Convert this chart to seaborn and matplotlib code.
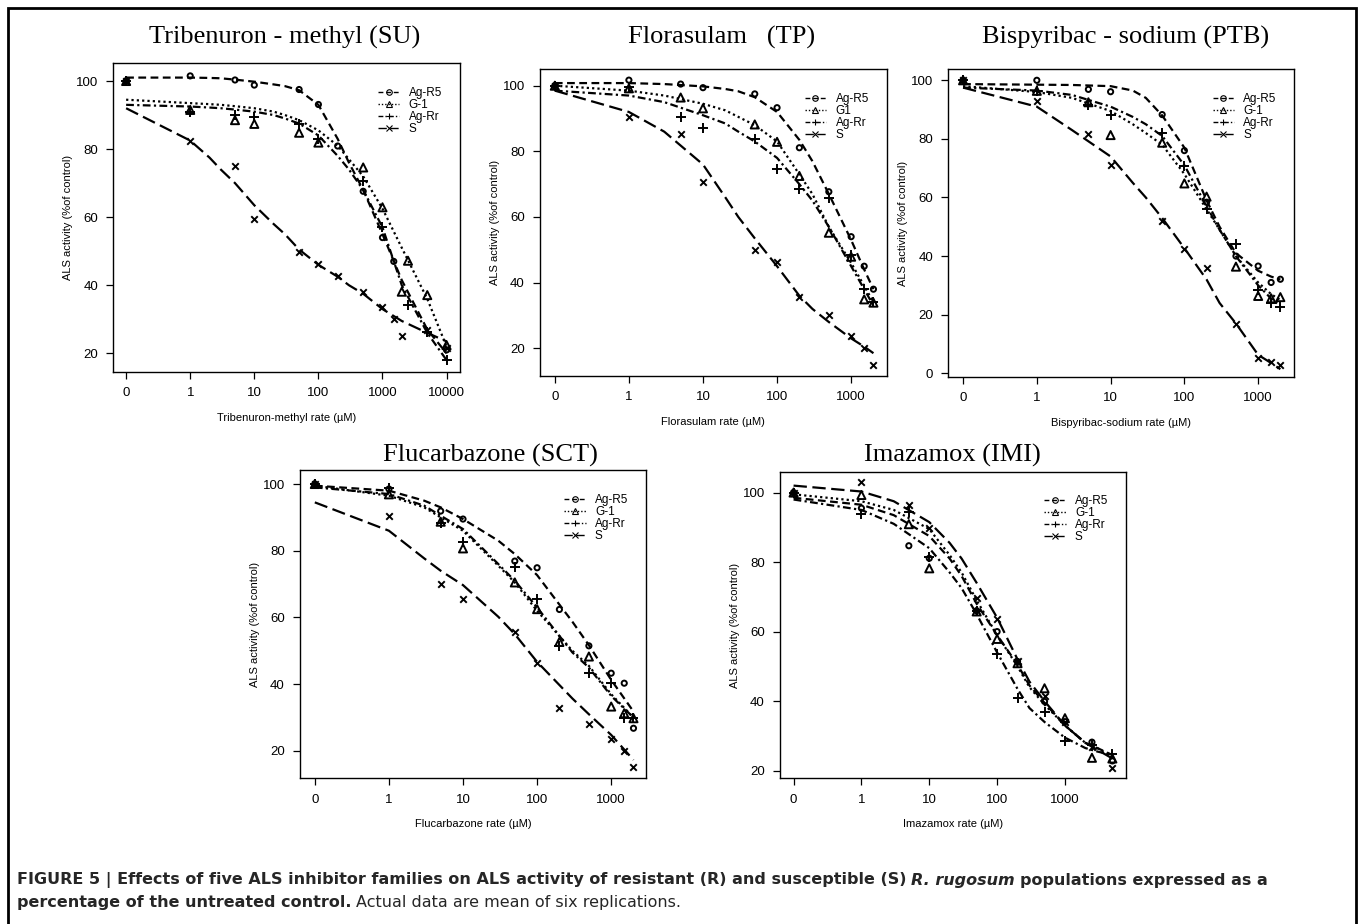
import numpy as np
import pandas as pd
import seaborn as sns
import matplotlib.pyplot as plt
from matplotlib.lines import Line2D
from matplotlib.patches import Rectangle
from matplotlib.ticker import NullLocator

sns.set_style("ticks")
plt.rcParams['font.family'] = ['Liberation Sans', 'DejaVu Sans']
plt.rcParams.update({'text.color': 'black', 'axes.labelcolor': 'black',
                     'xtick.color': 'black', 'ytick.color': 'black'})

pops = ['Ag-R5', 'G-1', 'Ag-Rr', 'S']

# ---- Tribenuron-methyl (SU) ----
su_pts_dose = {
    'Ag-R5': [0, 1, 5, 10, 50, 100, 200, 500, 1000, 1500, 10000],
    'G-1': [0, 1, 5, 10, 50, 100, 500, 1000, 2000, 2500, 5000, 10000],
    'Ag-Rr': [0, 1, 5, 10, 50, 100, 500, 1000, 2500, 5000, 10000],
    'S': [0, 1, 5, 10, 50, 100, 200, 500, 1000, 1500, 2000, 5000, 10000],
}
su_pts_val = {
    'Ag-R5': [100, 101.5, 100.3, 98.8, 97.5, 93.1, 80.9, 67.6, 54, 47, 21],
    'G-1': [100, 91.5, 88.5, 87.4, 84.8, 81.9, 74.6, 62.9, 38.1, 47.2, 37.1, 22.4],
    'Ag-Rr': [100, 91, 90, 89.5, 87.5, 83, 70.7, 57.2, 34.2, 26.4, 18],
    'S': [100, 82.5, 75.1, 59.5, 49.9, 46.2, 42.7, 38.1, 33.5, 30, 25.2, 26.8, 21.5],
}
su_fit_dose = [0, 1, 2, 3, 5, 10, 20, 30, 50, 100, 200, 300, 500, 1000, 2000, 5000, 10000]
su_fit_val = {
    'Ag-R5': [101, 101, 100.9, 100.8, 100.4, 99.8, 99, 98.5, 97.3, 93, 83, 76, 68, 55, 41.5, 27, 20],
    'G-1': [94.5, 93.5, 93.2, 93, 92.6, 92, 91, 90, 88.5, 85.5, 81, 77, 72, 62.5, 51, 36, 22],
    'Ag-Rr': [93, 92.5, 92.2, 92, 91.6, 91, 90, 89, 87.5, 84, 78, 74, 68, 57, 40, 26, 18],
    'S': [92, 82.5, 77.5, 74, 70, 63.5, 58, 55, 50.5, 46, 42.5, 40, 37.5, 33, 29.5, 26, 23.5],
}

# ---- Florasulam (TP) ----
tp_dose = [0, 1, 5, 10, 50, 100, 200, 500, 1000, 1500, 2000]
tp_pts_val = {
    'Ag-R5': [100, 101.7, 100.5, 99.4, 97.5, 93.3, 81.1, 67.7, 54, 45, 38],
    'G-1': [100, 99.2, 96.4, 93.1, 88.2, 82.9, 72.5, 55.2, 47.9, 34.9, 33.9],
    'Ag-Rr': [100, 99.7, 90.6, 87, 83.8, 74.6, 68.4, 65.7, 48.4, 38, 34],
    'S': [100, 90.6, 85.3, 70.6, 50, 46.2, 35.5, 30.2, 23.8, 20, 14.9],
}
tp_fit_dose = [0, 1, 3, 10, 20, 30, 50, 100, 200, 300, 500, 1000, 1500, 2000]
tp_fit_val = {
    'Ag-R5': [100.8, 100.8, 100.5, 99.8, 99, 98.3, 96.5, 92, 83.5, 77, 67, 53, 44, 38],
    'G-1': [100, 98.5, 97, 94.5, 92.5, 90.5, 88, 83, 73, 67, 57, 46, 39, 34],
    'Ag-Rr': [98.5, 97, 95, 91, 88.5, 86, 83, 78, 70, 65, 57, 45, 38, 33],
    'S': [98.5, 92, 86, 76, 66, 60, 53.5, 45, 36, 32, 28, 23, 20.5, 18.5],
}

# ---- Bispyribac-sodium (PTB) ----
ptb_dose = [0, 1, 5, 10, 50, 100, 200, 500, 1000, 1500, 2000]
ptb_pts_val = {
    'Ag-R5': [100, 100, 96.9, 96.1, 88.3, 76, 58.4, 40, 36.6, 31, 32.1],
    'G-1': [100, 96.4, 92.5, 81.3, 78.7, 64.8, 60.3, 36.4, 26.4, 25.6, 26],
    'Ag-Rr': [100, 96.5, 91.6, 88.2, 81.9, 70.9, 56, 44.1, 28.4, 24.1, 22.5],
    'S': [100, 93.1, 81.6, 71.1, 51.9, 42.3, 35.8, 16.8, 5.1, 3.8, 2.7],
}
ptb_fit_dose = [0, 1, 3, 10, 20, 30, 50, 100, 200, 300, 500, 1000, 1500, 2000]
ptb_fit_val = {
    'Ag-R5': [98.7, 98.5, 98.4, 98, 96.5, 94, 88, 77, 59, 50, 41, 35, 33, 32],
    'G-1': [98, 96, 94, 89.5, 85, 82, 78, 68, 56, 49, 40, 31, 27, 25],
    'Ag-Rr': [97.5, 96.5, 95, 91, 87.5, 85, 81, 71, 57, 49, 40, 30, 25.5, 23],
    'S': [97.5, 91, 83, 74, 65, 60, 53, 42.7, 32, 24, 17, 6.3, 3.5, 1.4],
}

# ---- Flucarbazone (SCT) ----
sct_dose = [0, 1, 5, 10, 50, 100, 200, 500, 1000, 1500, 2000]
sct_pts_val = {
    'Ag-R5': [100, 98.5, 91.9, 89.5, 76.9, 74.9, 62.4, 51.5, 43.3, 40.3, 26.8],
    'G-1': [100, 96.9, 88.7, 80.7, 70.5, 62.5, 52.7, 48.3, 33.3, 31.3, 29.8],
    'Ag-Rr': [100, 98.7, 88.2, 82.7, 75.2, 65.5, 51.5, 43.3, 40.3, 30, 30],
    'S': [100, 90.4, 70, 65.5, 55.7, 46.3, 32.8, 28, 23.6, 20.1, 15.1],
}
sct_fit_dose = [0, 1, 3, 5, 10, 30, 50, 100, 300, 500, 1000, 2000]
sct_fit_val = {
    'Ag-R5': [99.5, 98, 95, 93, 89.5, 83, 79, 72.7, 58.7, 51.7, 41.3, 31.8],
    'G-1': [99.5, 96.5, 93, 90, 86, 75.5, 70.5, 62, 50, 45.5, 37, 30],
    'Ag-Rr': [99, 97, 93.5, 90.5, 86.5, 76, 71, 63, 49.5, 45, 36.5, 30],
    'S': [94.5, 86, 77.7, 74, 69.7, 60.2, 55, 46.7, 35.7, 31, 24.8, 17.3],
}

# ---- Imazamox (IMI) ----
imi_dose = [0, 1, 5, 10, 50, 100, 200, 500, 1000, 2500, 5000]
imi_pts_val = {
    'Ag-R5': [100, 95.5, 84.7, 81.1, 66, 60, 51.4, 39.9, 34.1, 28.2, 22.8],
    'G-1': [100, 99.3, 90.9, 78.2, 65.8, 57.9, 50.9, 43.7, 35.1, 23.7, 23.5],
    'Ag-Rr': [100, 93.9, 94.3, 81.6, 65.8, 53.5, 41, 36.8, 28.5, 27.4, 24.7],
    'S': [100, 103, 96.3, 89.7, 69.6, 63.6, 51.6, 41.6, 34.1, 26.9, 20.9],
}
imi_fit_dose = [0, 1, 3, 10, 20, 30, 50, 100, 200, 300, 500, 1000, 2000, 3000, 5000]
imi_fit_val = {
    'Ag-R5': [98.5, 96.5, 93.5, 87.5, 81, 76, 68, 59, 50.5, 44.5, 39.5, 33, 28, 26.5, 24.5],
    'G-1': [99.5, 97.5, 95, 89.5, 82, 77, 69, 59, 50, 44, 39, 33, 28, 26.5, 24],
    'Ag-Rr': [98, 95, 91, 84, 77, 72.5, 65, 54, 43.5, 38, 34, 29.5, 26.5, 25.5, 24.5],
    'S': [102, 100.3, 97.5, 91.5, 85.5, 81, 74, 64, 52, 45.6, 40, 33, 28, 26, 23.5],
}

styles = {
    'Ag-R5': dict(ls=(0, (3.5, 2)), marker='o', face='none', ms=14),
    'G-1': dict(ls=(0, (1, 1.4)), marker='^', face='none', ms=34),
    'Ag-Rr': dict(ls=(0, (3.5, 1.5, 1, 1.5)), marker='+', face='black', ms=55),
    'S': dict(ls=(0, (6, 2.5)), marker='x', face='black', ms=22),
}

W, H = 1360, 924
fig = plt.figure(figsize=(W / 100, H / 100), dpi=100)


def add_ax(l, r, t, b):
    return fig.add_axes([l / W, 1 - b / H, (r - l) / W, (b - t) / H])


def panel(ax, pts_dose, pts_val, fit_dose, fit_val, xmax, ylim, yticks,
          xticks, xlabel, g_label='G-1'):
    for p in pops:
        st = styles[p]
        fit = pd.DataFrame({'dose': fit_dose, 'act': fit_val[p]})
        sns.lineplot(data=fit, x='dose', y='act', ax=ax, color='black',
                     lw=1.6, linestyle=st['ls'], sort=True)
        d = pts_dose[p] if isinstance(pts_dose, dict) else pts_dose
        pts = pd.DataFrame({'dose': d, 'act': pts_val[p]})
        sns.scatterplot(data=pts, x='dose', y='act', ax=ax, marker=st['marker'],
                        s=st['ms'], color='black', facecolor=st['face'],
                        edgecolor='black', linewidth=1.4, zorder=3)
    ax.set_xscale('symlog', linthresh=1, linscale=0.9)
    ax.set_xlim(-0.2, xmax)
    ax.set_ylim(*ylim)
    ax.set_xticks(xticks)
    ax.set_xticklabels([str(v) for v in xticks])
    ax.xaxis.set_minor_locator(NullLocator())
    ax.set_yticks(yticks)
    ax.set_xlabel(xlabel, fontsize=8, labelpad=10)
    ax.set_ylabel('ALS activity (%of control)', fontsize=8, labelpad=2)
    ax.tick_params(labelsize=9.5, length=5, width=0.9, color='black', pad=6)
    for sp in ax.spines.values():
        sp.set_visible(True)
        sp.set_linewidth(1.0)
        sp.set_color('black')
    handles = []
    for p in pops:
        st = styles[p]
        handles.append(Line2D([0], [0], color='black', lw=1.0, linestyle=st['ls'],
                              marker=st['marker'], markersize=4,
                              markerfacecolor=st['face'], markeredgecolor='black',
                              markeredgewidth=0.8))
    labels = ['Ag-R5', g_label, 'Ag-Rr', 'S']
    ax.legend(handles, labels, loc='upper left', bbox_to_anchor=(0.74, 0.95),
              frameon=False, fontsize=8.5, handlelength=1.8, handletextpad=0.8,
              labelspacing=0.0, borderpad=0.2)


ax1 = add_ax(113.3, 460, 63.3, 371.7)
panel(ax1, su_pts_dose, su_pts_val, su_fit_dose, su_fit_val, 16200, (14.6, 105.2),
      [20, 40, 60, 80, 100], [0, 1, 10, 100, 1000, 10000], 'Tribenuron-methyl rate (µM)')
ax2 = add_ax(540, 886.7, 69.3, 376)
panel(ax2, tp_dose, tp_pts_val, tp_fit_dose, tp_fit_val, 3020, (11.55, 105),
      [20, 40, 60, 80, 100], [0, 1, 10, 100, 1000], 'Florasulam rate (µM)', g_label='G1')
ax3 = add_ax(948.3, 1294.3, 69.3, 376.7)
panel(ax3, ptb_dose, ptb_pts_val, ptb_fit_dose, ptb_fit_val, 3090, (-1.16, 103.75),
      [0, 20, 40, 60, 80, 100], [0, 1, 10, 100, 1000], 'Bispyribac-sodium rate (µM)')
ax4 = add_ax(300, 646, 470, 778.3)
panel(ax4, sct_dose, sct_pts_val, sct_fit_dose, sct_fit_val, 2950, (11.8, 104.2),
      [20, 40, 60, 80, 100], [0, 1, 10, 100, 1000], 'Flucarbazone rate (µM)')
ax5 = add_ax(780, 1126, 471.7, 778.3)
panel(ax5, imi_dose, imi_pts_val, imi_fit_dose, imi_fit_val, 7940, (17.8, 106),
      [20, 40, 60, 80, 100], [0, 1, 10, 100, 1000], 'Imazamox rate (µM)')

titles = [('Tribenuron - methyl (SU)', 285, 37), ('Florasulam   (TP)', 722, 37),
          ('Bispyribac - sodium (PTB)', 1126, 37), ('Flucarbazone (SCT)', 490, 455),
          ('Imazamox (IMI)', 952, 455)]
for txt, x, y in titles:
    fig.text(x / W, 1 - y / H, txt, ha='center', va='center', fontsize=19,
             family=['Liberation Serif', 'DejaVu Serif'], color='black')

# outer frame
fig.patches.append(Rectangle((8 / W, -0.05), (1356 - 8) / W, 1.05 - 8 / H,
                             transform=fig.transFigure, fill=False, lw=2,
                             edgecolor='black'))

# caption
cap_family = ['DejaVu Sans']
cap_color = '#262626'
renderer = fig.canvas.get_renderer()


def text_runs(x, y, parts):
    for s, w, st in parts:
        t = fig.text(x / W, 1 - y / H, s, fontsize=11.5, fontweight=w, fontstyle=st,
                     family=cap_family, color=cap_color, va='center', ha='left')
        bb = t.get_window_extent(renderer)
        x += bb.width + 5


text_runs(17, 880, [
    ('FIGURE 5 | Effects of five ALS inhibitor families on ALS activity of resistant (R) and susceptible (S)', 'bold', 'normal'),
    ('R. rugosum', 'bold', 'italic'),
    ('populations expressed as a', 'bold', 'normal'),
])
text_runs(17, 903, [
    ('percentage of the untreated control.', 'bold', 'normal'),
    ('Actual data are mean of six replications.', 'normal', 'normal'),
])

fig.savefig('out.png', dpi=100)
